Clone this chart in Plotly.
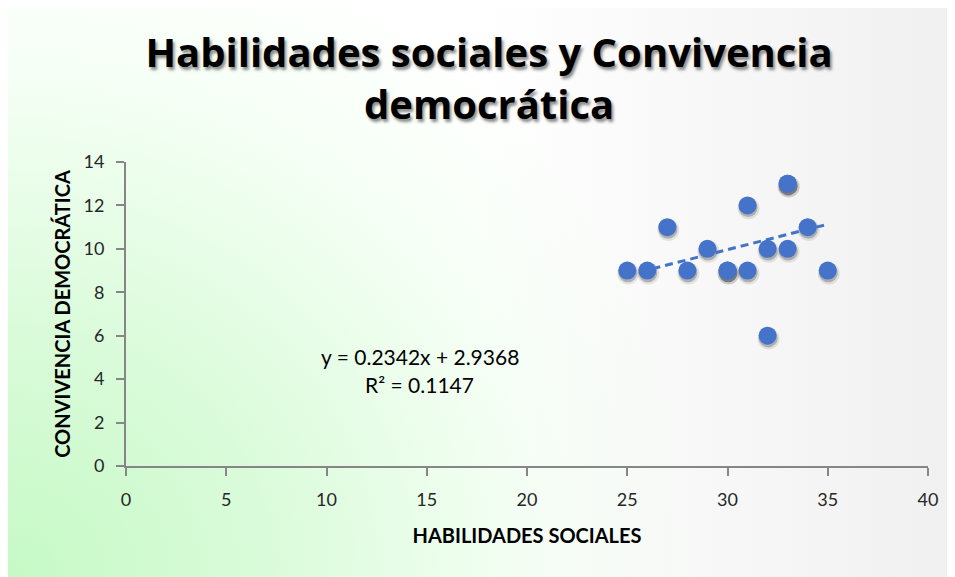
import base64
import plotly.graph_objects as go

# ---- data ----
habilidades = [25, 26, 27, 28, 29, 30, 30, 31, 31, 32, 32, 33, 33, 33, 34, 35]
convivencia = [9, 9, 11, 9, 10, 9, 9, 9, 12, 10, 6, 13, 13, 10, 11, 9]
slope = 0.2342
intercept = 2.9368
r2 = 0.1147
x_ticks = [0, 5, 10, 15, 20, 25, 30, 35, 40]
y_ticks = [0, 2, 4, 6, 8, 10, 12, 14]

title_text = "Habilidades sociales y Convivencia<br>democrática"
x_title = "HABILIDADES SOCIALES"
y_title = "CONVIVENCIA DEMOCRÁTICA"

FONT = "Lato, 'Open Sans', sans-serif"
TFONT = "'Open Sans', Lato, sans-serif"
W, H = 947, 569
L, R, T, B = 118, 27, 154, 111
pw, ph = W - L - R, H - T - B

# background gradient as svg
svg = f'''<svg xmlns="http://www.w3.org/2000/svg" width="{W}" height="{H}" viewBox="0 0 {W} {H}">
<defs>
<radialGradient id="g" cx="0" cy="{H}" r="1" gradientUnits="userSpaceOnUse"
 gradientTransform="translate(0 {H}) scale(720 680) translate(0 -{H})">
<stop offset="0" stop-color="#c6f9c6"/>
<stop offset="0.35" stop-color="#d9fbd9"/>
<stop offset="0.75" stop-color="#f6fff6"/>
<stop offset="1" stop-color="#ffffff"/>
</radialGradient>
<linearGradient id="h" x1="0" y1="0" x2="1" y2="0">
<stop offset="0" stop-color="#f0f0f0" stop-opacity="0"/>
<stop offset="0.5" stop-color="#f0f0f0" stop-opacity="0"/>
<stop offset="1" stop-color="#f0f0f0" stop-opacity="1"/>
</linearGradient>
</defs>
<rect x="0" y="0" width="{W}" height="{H}" fill="#ffffff"/>
<rect x="0" y="0" width="{W}" height="{H}" fill="url(#g)"/>
<rect x="0" y="0" width="{W}" height="{H}" fill="url(#h)"/>
</svg>'''
src = "data:image/svg+xml;base64," + base64.b64encode(svg.encode()).decode()

xmin, xmax = min(habilidades), max(habilidades)
trend_x = [xmin, xmax]
trend_y = [slope * v + intercept for v in trend_x]

fig = go.Figure()
# soft shadows
fig.add_trace(go.Scatter(x=[v + 0.05 for v in habilidades], y=[v - 0.13 for v in convivencia],
                         mode="markers", hoverinfo="skip",
                         marker=dict(size=22, color="rgba(0,0,0,0.09)", line=dict(width=0))))
fig.add_trace(go.Scatter(x=[v + 0.03 for v in habilidades], y=[v - 0.1 for v in convivencia],
                         mode="markers", hoverinfo="skip",
                         marker=dict(size=19, color="rgba(0,0,0,0.22)", line=dict(width=0))))
fig.add_trace(go.Scatter(x=habilidades, y=convivencia, mode="markers",
                         marker=dict(size=18, color="#4473C9", line=dict(width=0))))
fig.add_trace(go.Scatter(x=trend_x, y=trend_y, mode="lines",
                         line=dict(color="#4473C9", width=3, dash="8px,5px")))

eqfont = dict(family=FONT, size=21, color="#000")
fig.add_annotation(x=14.65, y=5.05, xref="x", yref="y",
                   text=f"y = {slope}x + {intercept}", showarrow=False, font=eqfont)
fig.add_annotation(x=14.65, y=3.75, xref="x", yref="y",
                   text=f"R² = {r2}", showarrow=False, font=eqfont)

fig.add_layout_image(dict(source=src, xref="paper", yref="paper",
                          x=-L / pw, y=1 + T / ph, sizex=W / pw, sizey=H / ph,
                          xanchor="left", yanchor="top", sizing="stretch", layer="below"))

tickfont = dict(family=FONT, size=18, color="#262626")
axtitle = dict(family=FONT, size=20, color="#000", weight="bold")

fig.update_layout(
    width=W, height=H, margin=dict(l=L, r=R, t=T, b=B),
    paper_bgcolor="white", plot_bgcolor="rgba(0,0,0,0)",
    showlegend=False,
    title=dict(text=title_text, x=0.508, xanchor="center", y=1 - 58.5 / H, yanchor="middle",
               font=dict(family=TFONT, size=40, color="#000", weight="bold",
                         shadow="2px 3px 3px rgba(0,0,0,0.45)")),
    xaxis=dict(range=[0, 40], tickvals=x_ticks, showgrid=False, zeroline=False,
               showline=True, linecolor="#868686", linewidth=2,
               ticks="outside", ticklen=8, tickcolor="#868686", tickwidth=2,
               ticklabelstandoff=8,
               tickfont=tickfont, title=dict(text=x_title, font=axtitle, standoff=20)),
    yaxis=dict(range=[0, 14], tickvals=y_ticks, showgrid=False, zeroline=False,
               showline=True, linecolor="#868686", linewidth=2,
               ticks="outside", ticklen=8, tickcolor="#868686", tickwidth=2,
               ticklabelstandoff=8,
               tickfont=tickfont, title=dict(text=y_title, font=axtitle, standoff=8)),
)
fig.write_html("out.html")
